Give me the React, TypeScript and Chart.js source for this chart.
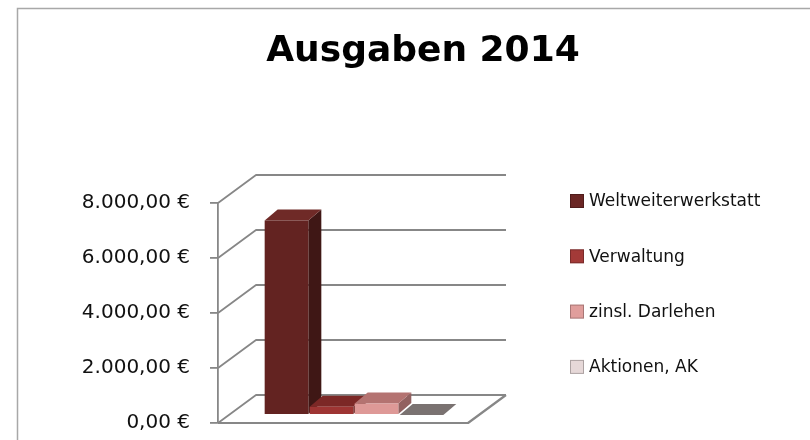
import { useEffect, useRef } from 'react';
import { Chart, registerables } from 'chart.js';

Chart.register(...registerables);

// ---- data ----
const TITLE = 'Ausgaben 2014';
const categories = ['2014'];
const seriesNames = ['Weltweiterwerkstatt', 'Verwaltung', 'zinsl. Darlehen', 'Aktionen, AK'];
const seriesValues = [7070, 300, 420, 0];
const yTickValues = [0, 2000, 4000, 6000, 8000];

// ---- styles ----
const frontColors = ['#632321', '#9e3533', '#de9997', '#e8d6d5'];
const topColors = ['#6f2a27', '#7c2826', '#b47371', '#7a7271'];
const sideColors = ['#3f1715', '#5e1e1c', '#926160', '#5e5756'];
const legendColors = ['#6a2624', '#a33a38', '#e09e9c', '#e6d8d8'];
const GRID = '#878787';
const FONT = 'DejaVu Sans';

const DEPTH = { x: 38, y: -28 };
const BAR_OFF = { x: 11, y: -8 };
const BAR_DEPTH = { x: 13, y: -11 };

const fmtEuro = (v: number) =>
  Math.round(v).toString().replace(/\B(?=(\d{3})+(?!\d))/g, '.') + ',00 €';

const threeD = {
  id: 'threeD',
  beforeDraw(chart: any) {
    const { ctx, chartArea: ca, scales } = chart;
    const y = scales.y;
    ctx.save();
    // outer chart border (cropped on right/bottom)
    ctx.strokeStyle = '#a8a8a8';
    ctx.lineWidth = 1.5;
    ctx.strokeRect(17.5, 8.5, 1200, 1200);
    // walls
    ctx.strokeStyle = GRID;
    ctx.lineWidth = 1.8;
    ctx.lineJoin = 'round';
    for (const t of y.ticks) {
      const py = y.getPixelForValue(t.value);
      ctx.beginPath();
      ctx.moveTo(ca.left, py);
      ctx.lineTo(ca.left + DEPTH.x, py + DEPTH.y);
      ctx.lineTo(ca.right + DEPTH.x, py + DEPTH.y);
      ctx.stroke();
    }
    // floor
    const p0 = y.getPixelForValue(0);
    ctx.lineWidth = 2.2;
    ctx.beginPath();
    ctx.moveTo(ca.left, p0);
    ctx.lineTo(ca.right, p0);
    ctx.lineTo(ca.right + DEPTH.x, p0 + DEPTH.y);
    ctx.stroke();
    ctx.restore();
  },
  beforeDatasetsDraw(chart: any) {
    // side and top faces, painted left to right
    const { ctx } = chart;
    ctx.save();
    ctx.translate(BAR_OFF.x, BAR_OFF.y);
    chart.data.datasets.forEach((_ds: any, i: number) => {
      const meta = chart.getDatasetMeta(i);
      for (const el of meta.data) {
        const { x, y, base, width } = el.getProps(['x', 'y', 'base', 'width'], true);
        const l = x - width / 2;
        const r = x + width / 2;
        const top = Math.min(y, base);
        const bot = Math.max(y, base);
        ctx.fillStyle = sideColors[i];
        ctx.beginPath();
        ctx.moveTo(r, top);
        ctx.lineTo(r + BAR_DEPTH.x, top + BAR_DEPTH.y);
        ctx.lineTo(r + BAR_DEPTH.x, bot + BAR_DEPTH.y);
        ctx.lineTo(r, bot);
        ctx.closePath();
        ctx.fill();
        ctx.fillStyle = topColors[i];
        ctx.beginPath();
        ctx.moveTo(l, top);
        ctx.lineTo(r, top);
        ctx.lineTo(r + BAR_DEPTH.x, top + BAR_DEPTH.y);
        ctx.lineTo(l + BAR_DEPTH.x, top + BAR_DEPTH.y);
        ctx.closePath();
        ctx.fill();
      }
    });
    ctx.restore();
  },
  beforeDatasetDraw(chart: any) {
    chart.ctx.save();
    chart.ctx.translate(BAR_OFF.x, BAR_OFF.y);
  },
  afterDatasetDraw(chart: any) {
    chart.ctx.restore();
  },
  afterDraw(chart: any) {
    const { ctx, chartArea: ca } = chart;
    ctx.save();
    ctx.font = `17px "${FONT}"`;
    ctx.textBaseline = 'middle';
    ctx.textAlign = 'left';
    chart.data.datasets.forEach((ds: any, i: number) => {
      const cy = ca.top - 2 + i * 55.3;
      const bx = ca.right + 102;
      ctx.fillStyle = legendColors[i];
      ctx.fillRect(bx, cy - 7, 14, 14);
      ctx.strokeStyle = 'rgba(0,0,0,0.25)';
      ctx.lineWidth = 1;
      ctx.strokeRect(bx + 0.5, cy - 6.5, 13, 13);
      ctx.fillStyle = '#111';
      ctx.fillText(ds.label, bx + 19, cy + 1);
    });
    ctx.restore();
  },
};

export default function App() {
  const ref = useRef<HTMLCanvasElement | null>(null);
  useEffect(() => {
    if (!ref.current) return;
    const chart = new Chart(ref.current, {
      type: 'bar',
      data: {
        labels: categories,
        datasets: seriesNames.map((name, i) => ({
          label: name,
          data: [seriesValues[i]],
          backgroundColor: frontColors[i],
          borderWidth: 0,
          categoryPercentage: 0.72,
          barPercentage: 0.97,
        })),
      },
      options: {
        animation: false,
        responsive: false,
        events: [],
        layout: { padding: { left: 36, right: 0, top: 10, bottom: 17 } },
        plugins: {
          legend: { display: false },
          tooltip: { enabled: false },
          title: {
            display: true,
            text: TITLE,
            color: '#000',
            font: { family: FONT, weight: 'bold', size: 36, lineHeight: 1.2 },
            padding: { top: 20, bottom: 129.8 },
          },
        },
        scales: {
          x: { type: 'category', display: false },
          y: {
            type: 'linear',
            position: 'left',
            min: 0,
            max: 8000,
            afterBuildTicks: (s: any) => {
              s.ticks = yTickValues.map((v) => ({ value: v }));
            },
            afterFit: (s: any) => {
              s.width = 182;
              s.paddingTop = 12;
              s.paddingBottom = 12;
            },
            ticks: {
              callback: (v: any) => fmtEuro(Number(v)),
              color: '#111',
              padding: 20,
              font: { family: FONT, size: 20 },
            },
            grid: { drawOnChartArea: false, drawTicks: true, tickLength: 8, color: GRID, lineWidth: 1.8 },
            border: { display: true, color: GRID, width: 1.8 },
          },
          spacer: {
            type: 'linear',
            position: 'right',
            display: true,
            ticks: { display: false },
            grid: { display: false },
            border: { display: false },
            afterFit: (s: any) => {
              s.width = 342;
              s.paddingTop = 0;
              s.paddingBottom = 0;
            },
          },
        },
      },
      plugins: [threeD],
    } as any);
    return () => chart.destroy();
  }, []);
  return (
    <div style={{ position: 'absolute', left: 0, top: 0, width: 810, height: 440, background: '#fff' }}>
      <canvas ref={ref} width={810} height={440} />
    </div>
  );
}
